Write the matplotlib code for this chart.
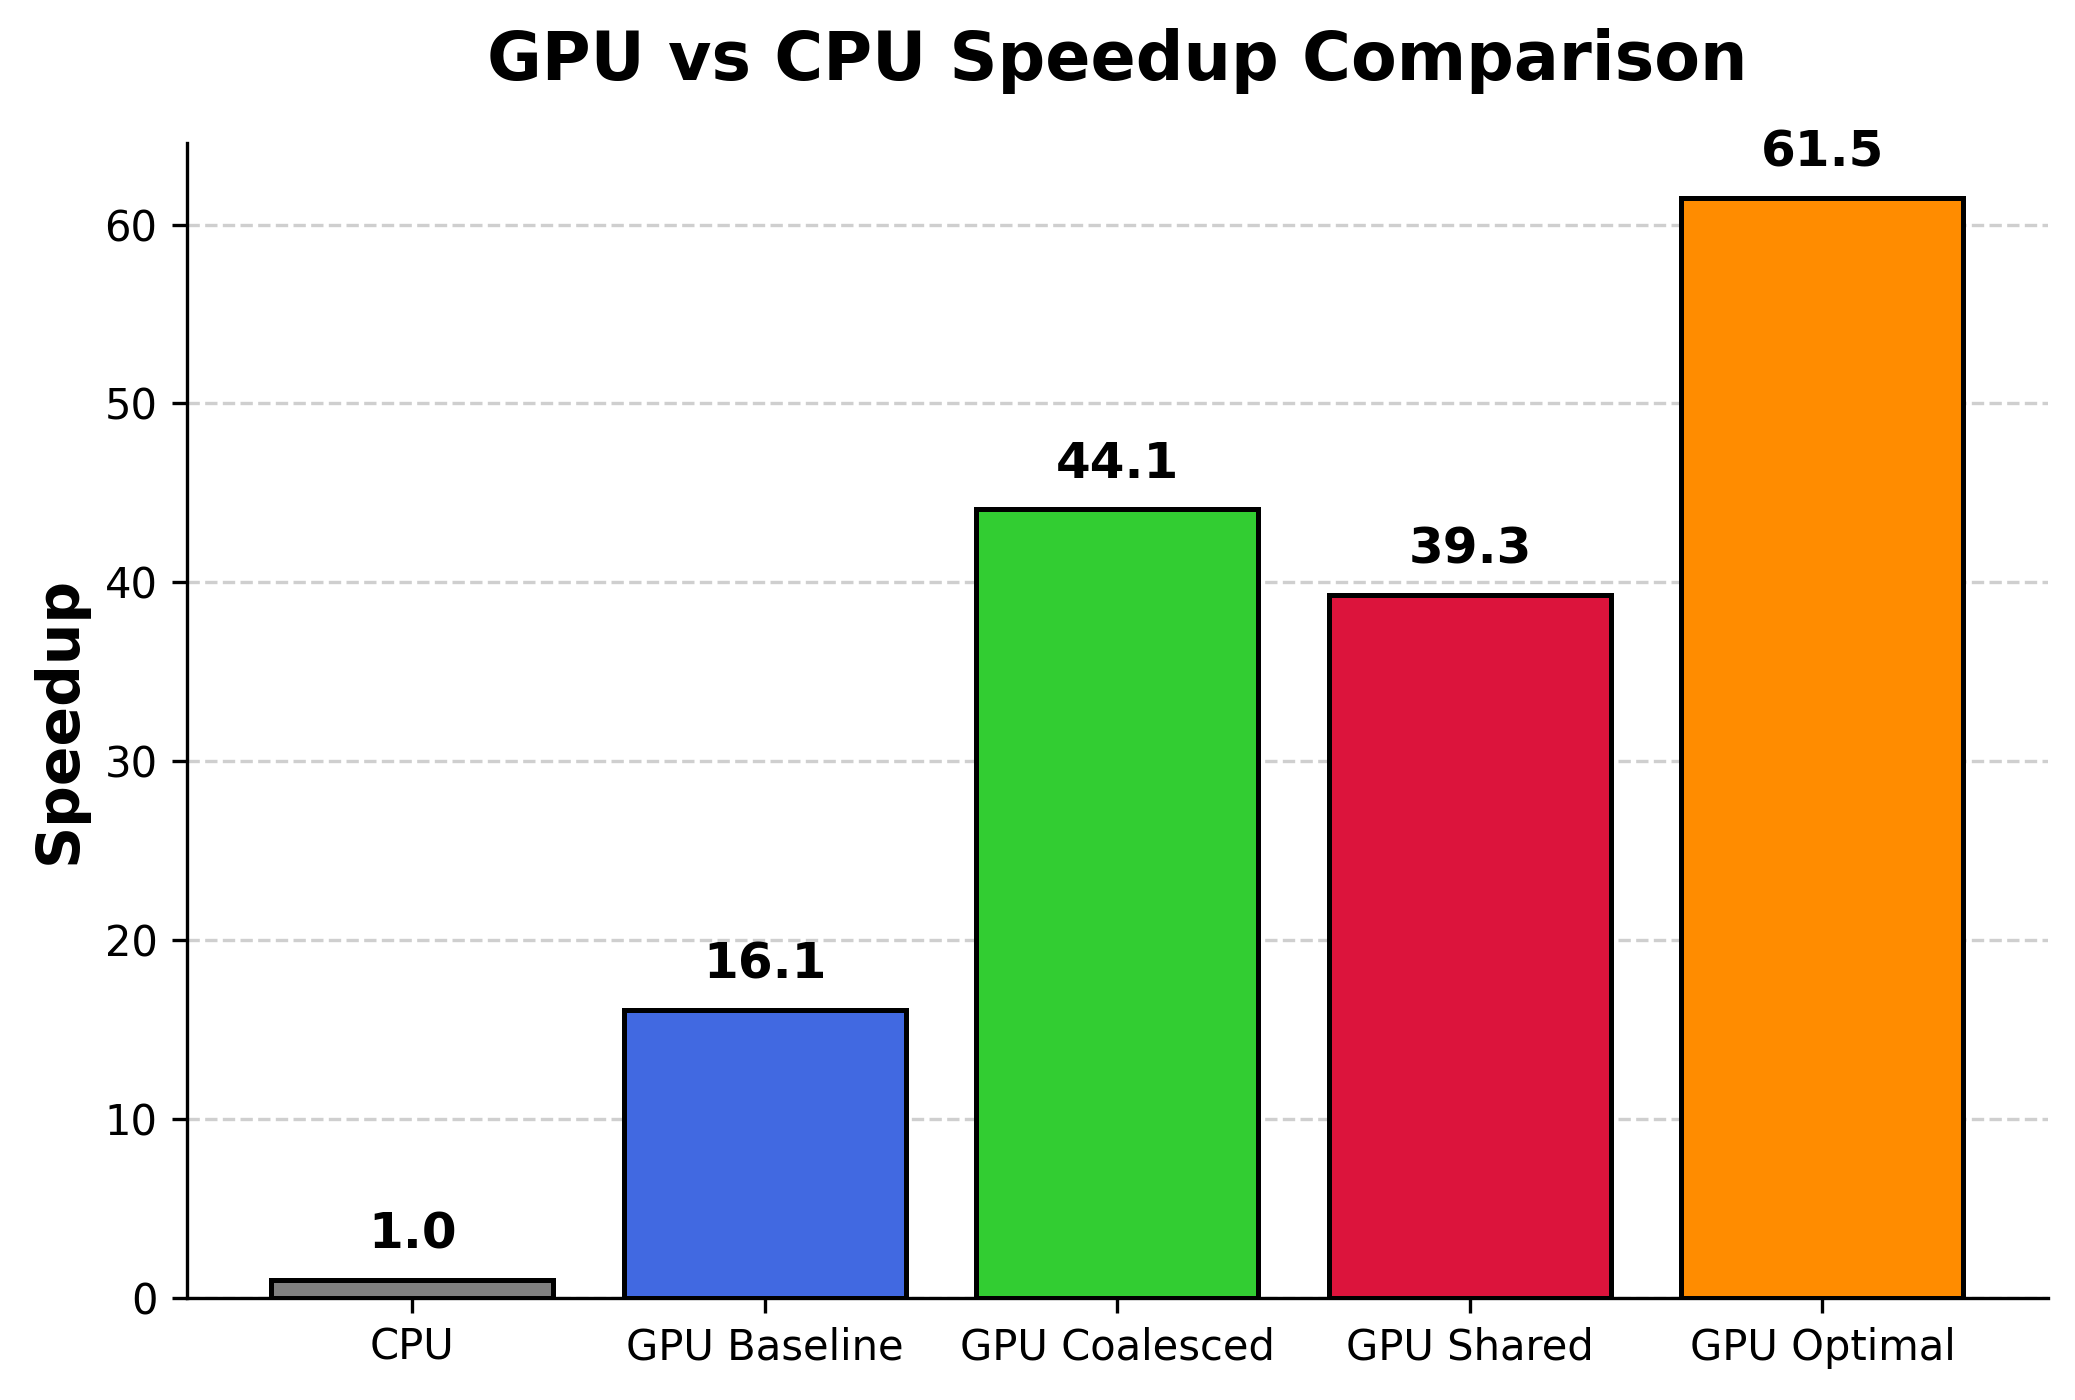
import matplotlib
matplotlib.use("Agg")
import matplotlib.pyplot as plt

# kernel variants and measured speedup vs CPU
labels = ['CPU', 'GPU Baseline', 'GPU Coalesced', 'GPU Shared', 'GPU Optimal']
speedup = [1.0, 16.1, 44.1, 39.3, 61.5]
colors = ['gray', 'royalblue', 'limegreen', 'crimson', 'darkorange']

fig, ax = plt.subplots(figsize=(2075 / 300, 1400 / 300), dpi=300)
fig.subplots_adjust(left=0.09, right=0.987, top=0.898, bottom=0.073)

bars = ax.bar(labels, speedup, color=colors, edgecolor='black', linewidth=1.2, width=0.8)

for b, v in zip(bars, speedup):
    ax.text(b.get_x() + b.get_width() / 2, v + 1.2, f'{v:.1f}',
            ha='center', va='bottom', fontsize=12, fontweight='bold')

ax.set_ylim(0, max(speedup) * 1.05)
ax.set_ylabel('Speedup', fontsize=14, fontweight='bold')
ax.set_title('GPU vs CPU Speedup Comparison', fontsize=16, fontweight='bold', pad=15)
ax.tick_params(labelsize=10)
ax.yaxis.grid(True, linestyle='--', alpha=0.6)
ax.set_axisbelow(True)
ax.spines['top'].set_visible(False)
ax.spines['right'].set_visible(False)

plt.savefig('out.png', dpi=300)
